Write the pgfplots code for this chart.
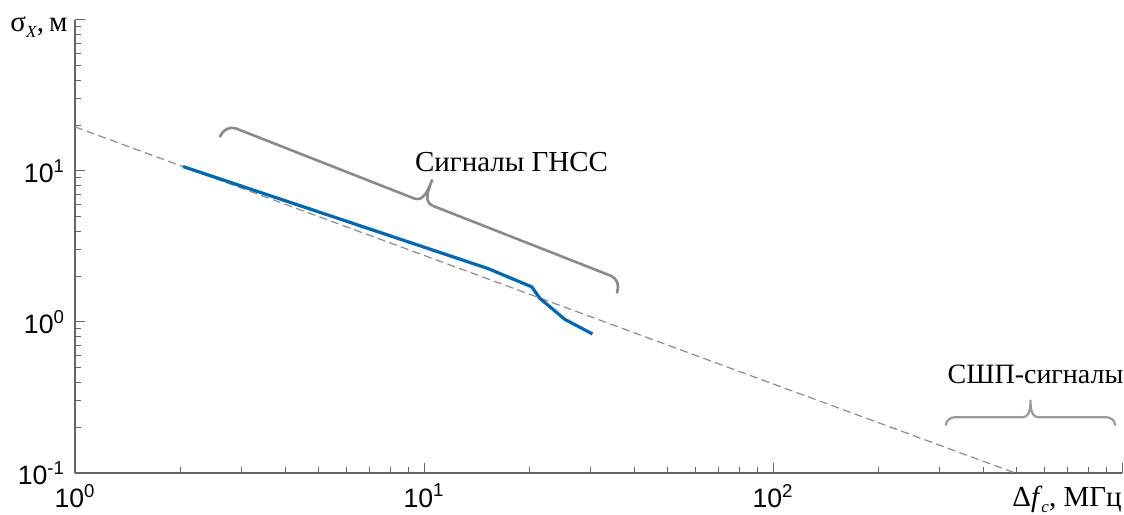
\documentclass[border=0pt]{standalone}
\usepackage{fontspec}
\setmainfont{Liberation Serif}
\setsansfont{Liberation Sans}
\usepackage{pgfplots}
\pgfplotsset{compat=1.18}
\definecolor{axgray}{HTML}{646464}
\definecolor{dashgray}{HTML}{8C8C8C}
\definecolor{bracegray}{HTML}{8A8A8A}
\definecolor{bracegraylight}{HTML}{9A9A9A}
\definecolor{mblue}{RGB}{0,104,180}
% #1 start, #2 angle, #3 length, #4 hook depth, #5 hook radius, #6 tip height, #7 tip radius, #8 style
\newcommand{\mybrace}[8]{%
\begin{scope}[shift={#1}, rotate=#2]
\draw[#8, line cap=round] (0,0) to[out=90,in=180] (#5,#4) -- ({#3/2-#7},#4) to[out=0,in=-90] ({#3/2},#6)
  to[out=-90,in=180] ({#3/2+#7},#4) -- ({#3-#5},#4) to[out=0,in=90] (#3,0);
\end{scope}}
\newcommand{\lowsub}[1]{\raisebox{-3.2pt}{\fontsize{8.5}{9}\selectfont\textit{#1}}}
\begin{document}
\begin{tikzpicture}[x=1pt,y=1pt]
\useasboundingbox (-37.5,-20.5) rectangle (524.5,236.5);
\begin{axis}[
  at={(0,0)}, anchor=south west,
  width=523.5pt, height=226.5pt, scale only axis,
  xmode=log, ymode=log,
  xmin=1, xmax=1000, ymin=0.1, ymax=100,
  axis x line=bottom, axis y line=left,
  axis line style={-, draw=axgray, line width=0.7pt},
  tick style={draw=axgray, line width=0.5pt},
  tick align=inside,
  major tick length=5pt, minor tick length=3pt,
  xtick={1,10,100,1000},
  xticklabels={{10\textsuperscript{0}},{10\textsuperscript{1}},{10\textsuperscript{2}},{}},
  ytick={0.1,1,10,100},
  yticklabels={{10\textsuperscript{-1}},{10\textsuperscript{0}},{10\textsuperscript{1}},{}},
  every tick label/.append style={font=\fontsize{13.3}{15}\sffamily, text=black},
  xticklabel style={yshift=-2pt},
  yticklabel style={xshift=-1.5pt},
]
\addplot[dashgray, line width=0.6pt, dash pattern=on 4pt off 2.2pt] coordinates {(1,19.6) (494,0.1)};
\addplot[mblue, line width=1.6pt] coordinates {
(2.04,10.7) (15.25,2.26) (20.35,1.71) (21.5,1.43) (25.35,1.04) (30.4,0.833)};
\end{axis}
\mybrace{(72.5,168.2)}{-21.45}{213.3}{6.7}{6}{18.9}{5}{bracegray, line width=1.3pt}
\mybrace{(435.5,24)}{0}{84.5}{3.9}{4.5}{12.5}{4}{bracegraylight, line width=1.1pt}
\node[anchor=base, inner sep=0pt, font=\fontsize{14.5}{17}\selectfont] at (218.25,150.5) {Сигналы ГНСС};
\node[anchor=base, inner sep=0pt, font=\fontsize{14}{17}\selectfont] at (480.25,44.85) {СШП-сигналы};
\node[anchor=base west, inner sep=0pt, font=\fontsize{14.5}{17}\selectfont] at (-32.5,220.75) {σ\lowsub{X},\kern2.5pt м};
\node[anchor=base east, inner sep=0pt, font=\fontsize{14.5}{17}\selectfont] at (523.5,-16.5) {Δ\textit{f}\kern-0.5pt\lowsub{c}, МГц};
\end{tikzpicture}
\end{document}
